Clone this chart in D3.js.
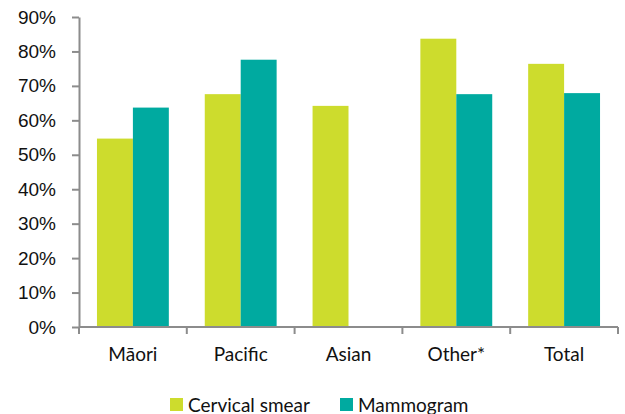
<!DOCTYPE html>
<html>
<head>
<meta charset="utf-8">
<script src="https://cdn.jsdelivr.net/npm/d3@7"></script>
<style>
  html, body { margin: 0; padding: 0; background: #fff; }
  svg { display: block; font-family: Lato, "Open Sans", sans-serif; }
</style>
</head>
<body>
<svg id="chart" width="625" height="414"></svg>
<script>
// Screening coverage by ethnic group
const categories = ["Māori", "Pacific", "Asian", "Other*", "Total"];
const seriesNames = ["Cervical smear", "Mammogram"];
const cervicalSmear = [54.7, 67.6, 64.2, 83.7, 76.4];
const mammogram = [63.7, 77.6, null, 67.6, 67.9];
const yTicks = [0, 10, 20, 30, 40, 50, 60, 70, 80, 90];
const colors = ["#cddc2d", "#00aaa0"];

const svg = d3.select("#chart");
const margin = { left: 79, right: 7, top: 17, bottom: 87 };
const width = 625, height = 414;

const x = d3.scaleBand()
  .domain(categories)
  .range([margin.left, width - margin.right])
  .paddingInner(0).paddingOuter(0);

const xInner = d3.scaleBand()
  .domain(seriesNames)
  .range([0, x.bandwidth()])
  .paddingInner(0)
  .paddingOuter(0.5);

const y = d3.scaleLinear()
  .domain([0, 90])
  .range([height - margin.bottom, margin.top]);

const axisColor = "#8c8c8c";

// bars
const rows = categories.map((c, i) => ({
  cat: c,
  vals: [cervicalSmear[i], mammogram[i]]
}));

const groups = svg.append("g").selectAll("g")
  .data(rows).join("g")
  .attr("transform", d => `translate(${x(d.cat)},0)`);

groups.selectAll("rect")
  .data(d => d.vals.map((v, j) => ({ v, s: seriesNames[j], j })).filter(e => e.v != null))
  .join("rect")
  .attr("x", e => xInner(e.s))
  .attr("width", xInner.bandwidth())
  .attr("y", e => y(e.v))
  .attr("height", e => y(0) - y(e.v))
  .attr("fill", e => colors[e.j]);

// y axis
const yAxis = svg.append("g")
  .attr("transform", `translate(${margin.left},0)`)
  .call(d3.axisLeft(y).tickValues(yTicks).tickFormat(d => d + "%").tickSize(7).tickPadding(16).tickSizeOuter(0));
yAxis.select(".domain").attr("stroke", axisColor).attr("stroke-width", 2);
yAxis.selectAll(".tick line").attr("stroke", axisColor).attr("stroke-width", 2);
yAxis.selectAll(".tick text").attr("fill", "#111").style("font-size", "19px");

// x axis with boundary ticks between categories
const xAxisG = svg.append("g")
  .attr("transform", `translate(0,${y(0)})`);
xAxisG.append("line")
  .attr("x1", margin.left).attr("x2", width - margin.right)
  .attr("stroke", axisColor).attr("stroke-width", 2);
const bounds = categories.map(c => x(c)).concat([x(categories[categories.length - 1]) + x.bandwidth()]);
xAxisG.selectAll("line.bound")
  .data(bounds).join("line")
  .attr("class", "bound")
  .attr("x1", d => d).attr("x2", d => d)
  .attr("y1", 0).attr("y2", 7)
  .attr("stroke", axisColor).attr("stroke-width", 2);
xAxisG.selectAll("text.cat")
  .data(categories).join("text")
  .attr("class", "cat")
  .attr("x", d => x(d) + x.bandwidth() / 2)
  .attr("y", 34)
  .attr("text-anchor", "middle")
  .attr("fill", "#111")
  .style("font-size", "19px")
  .text(d => d);

// legend
const legendItems = [
  { name: seriesNames[0], color: colors[0], x: 170 },
  { name: seriesNames[1], color: colors[1], x: 340 }
];
const lg = svg.append("g").selectAll("g")
  .data(legendItems).join("g")
  .attr("transform", d => `translate(${d.x},398)`);
lg.append("rect").attr("width", 13).attr("height", 13).attr("fill", d => d.color);
lg.append("text")
  .attr("x", 18).attr("y", 13.5)
  .attr("fill", "#111")
  .style("font-size", "19px")
  .text(d => d.name);
</script>
</body>
</html>
